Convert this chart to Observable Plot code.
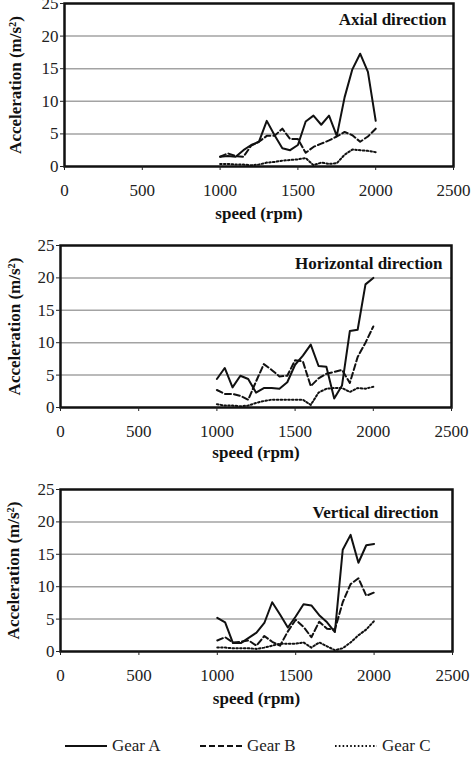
<!DOCTYPE html>
<html><head><meta charset="utf-8">
<script src="https://cdn.jsdelivr.net/npm/d3@7"></script>
<script src="https://cdn.jsdelivr.net/npm/@observablehq/plot@0.6"></script>
<style>
body{margin:0;background:#fff;font-family:'Liberation Serif','Times New Roman','DejaVu Serif',serif;width:475px;height:775px;overflow:hidden}
svg{display:block}
svg text{font-family:'Liberation Serif','Times New Roman','DejaVu Serif',serif !important}
#legend{height:72px;display:flex;align-items:center;padding-left:65px;font-size:17px;color:#222}
#legend .item{width:135px;display:flex;align-items:center}
#legend svg{margin-right:5px}
</style></head><body><div id="chart"></div><div id="legend"></div>
<script>
const speeds = [1000,1050,1100,1150,1200,1250,1300,1350,1400,1450,1500,1550,1600,1650,1700,1750,1800,1850,1900,1950,2000];
const gears = ["Gear A","Gear B","Gear C"];
const xTicks = [0,500,1000,1500,2000,2500];
const yTicks = [0,5,10,15,20,25];
const gridValues = [5,10,15,20];
const xLabel = "speed (rpm)";
const yLabel = "Acceleration (m/s²)";

const titles = ["Axial direction","Horizontal direction","Vertical direction"];

const axialA = [1.5,1.6,1.5,2.5,3.3,3.8,7.0,4.8,2.8,2.5,3.3,6.9,7.8,6.4,7.8,4.7,10.6,14.9,17.3,14.5,7.0];
const axialB = [1.5,2.0,1.6,1.5,3.2,3.8,4.7,4.7,5.8,4.2,4.2,2.1,3.0,3.5,4.0,4.6,5.3,4.8,3.8,4.6,5.8];
const axialC = [0.4,0.4,0.3,0.3,0.2,0.3,0.6,0.7,0.9,1.0,1.1,1.3,0.2,0.6,0.4,0.5,1.8,2.6,2.5,2.4,2.2];

const horizA = [4.4,6.1,3.1,4.9,4.4,2.3,3.0,3.0,2.9,3.9,6.6,8.0,9.7,6.4,6.3,1.4,3.4,11.8,12.0,19.0,20.0];
const horizB = [2.7,2.1,2.1,1.8,1.2,4.0,6.7,5.8,4.8,4.9,7.3,7.1,3.3,4.5,5.2,5.5,5.8,3.8,7.8,10.0,12.5];
const horizC = [0.5,0.3,0.3,0.2,0.3,0.7,1.0,1.2,1.2,1.2,1.2,1.2,0.4,2.3,2.9,3.0,3.0,2.4,3.0,2.9,3.2];

const vertA = [5.2,4.5,1.3,1.3,2.1,2.9,4.4,7.6,5.7,3.7,5.4,7.3,7.1,5.6,4.5,3.0,15.7,18.0,13.7,16.4,16.6];
const vertB = [1.7,2.2,1.4,1.5,1.7,0.9,2.4,1.5,0.9,3.1,4.9,3.8,2.2,4.6,3.5,3.4,7.6,10.4,11.3,8.6,9.1];
const vertC = [0.6,0.6,0.5,0.5,0.5,0.4,0.6,0.9,1.2,1.2,1.2,1.4,0.6,1.4,0.8,0.2,0.5,1.4,2.5,3.4,4.7];

const dashes = ["none","6,3","1.6,2.2"];

const panels = [
  {title: titles[0], series: [axialA, axialB, axialC], height: 230, mt: 3, mb: 64, ml: 64, mr: 22, tdx: -7, tdy: 16, ydx: -49, xdy: 47},
  {title: titles[1], series: [horizA, horizB, horizC], height: 240, mt: 15, mb: 63, ml: 60, mr: 24, tdx: -9, tdy: 18, ydx: -46, xdy: 45},
  {title: titles[2], series: [vertA, vertB, vertC], height: 240, mt: 19, mb: 59, ml: 60, mr: 23, tdx: -14, tdy: 23, ydx: -47, xdy: 47}
];

const FONT = "'Liberation Serif', 'Times New Roman', 'DejaVu Serif', serif";
const chart = document.getElementById("chart");
for (const p of panels) {
  const lines = p.series.map((vals, k) =>
    Plot.line(speeds.map((s, i) => ({speed: s, value: vals[i], gear: gears[k]})),
      {x: "speed", y: "value", stroke: "#111", strokeWidth: 2, strokeDasharray: dashes[k], strokeLinejoin: "round"}));
  const svg = Plot.plot({
    width: 475,
    height: p.height,
    marginTop: p.mt, marginBottom: p.mb, marginLeft: p.ml, marginRight: p.mr,
    style: {fontFamily: FONT, fontSize: "17px", background: "white", overflow: "visible", color: "#222"},
    x: {domain: [0, 2500]},
    y: {domain: [0, 25]},
    marks: [
      Plot.ruleY(gridValues, {stroke: "#a3a3a3", strokeWidth: 1.5}),
      ...lines,
      Plot.frame({stroke: "#111", strokeWidth: 2.5}),
      Plot.axisX({ticks: xTicks, tickSize: 4, tickPadding: 13, label: null, tickFormat: d => String(d), fontSize: 17}),
      Plot.axisY({ticks: yTicks, tickSize: 4, tickPadding: 2, label: null, fontSize: 17}),
      Plot.text([p.title], {frameAnchor: "top-right", dx: p.tdx, dy: p.tdy, textAnchor: "end", lineAnchor: "middle", fontWeight: "bold", fontSize: 17, fill: "#111"}),
      Plot.text([xLabel], {frameAnchor: "bottom", dy: p.xdy, lineAnchor: "middle", fontWeight: "bold", fontSize: 17, fill: "#111"}),
      Plot.text([yLabel], {frameAnchor: "left", dx: p.ydx, rotate: -90, lineAnchor: "middle", textAnchor: "middle", fontWeight: "bold", fontSize: 17, fill: "#111"})
    ]
  });
  chart.appendChild(svg);
}

const legend = d3.select("#legend");
gears.forEach((g, k) => {
  const item = legend.append("div").attr("class", "item");
  const s = item.append("svg").attr("width", 42).attr("height", 10);
  s.append("line").attr("x1", 0).attr("x2", 42).attr("y1", 5).attr("y2", 5)
    .attr("stroke", "#111").attr("stroke-width", 2).attr("stroke-dasharray", dashes[k]);
  item.append("span").text(g);
});
</script></body></html>
